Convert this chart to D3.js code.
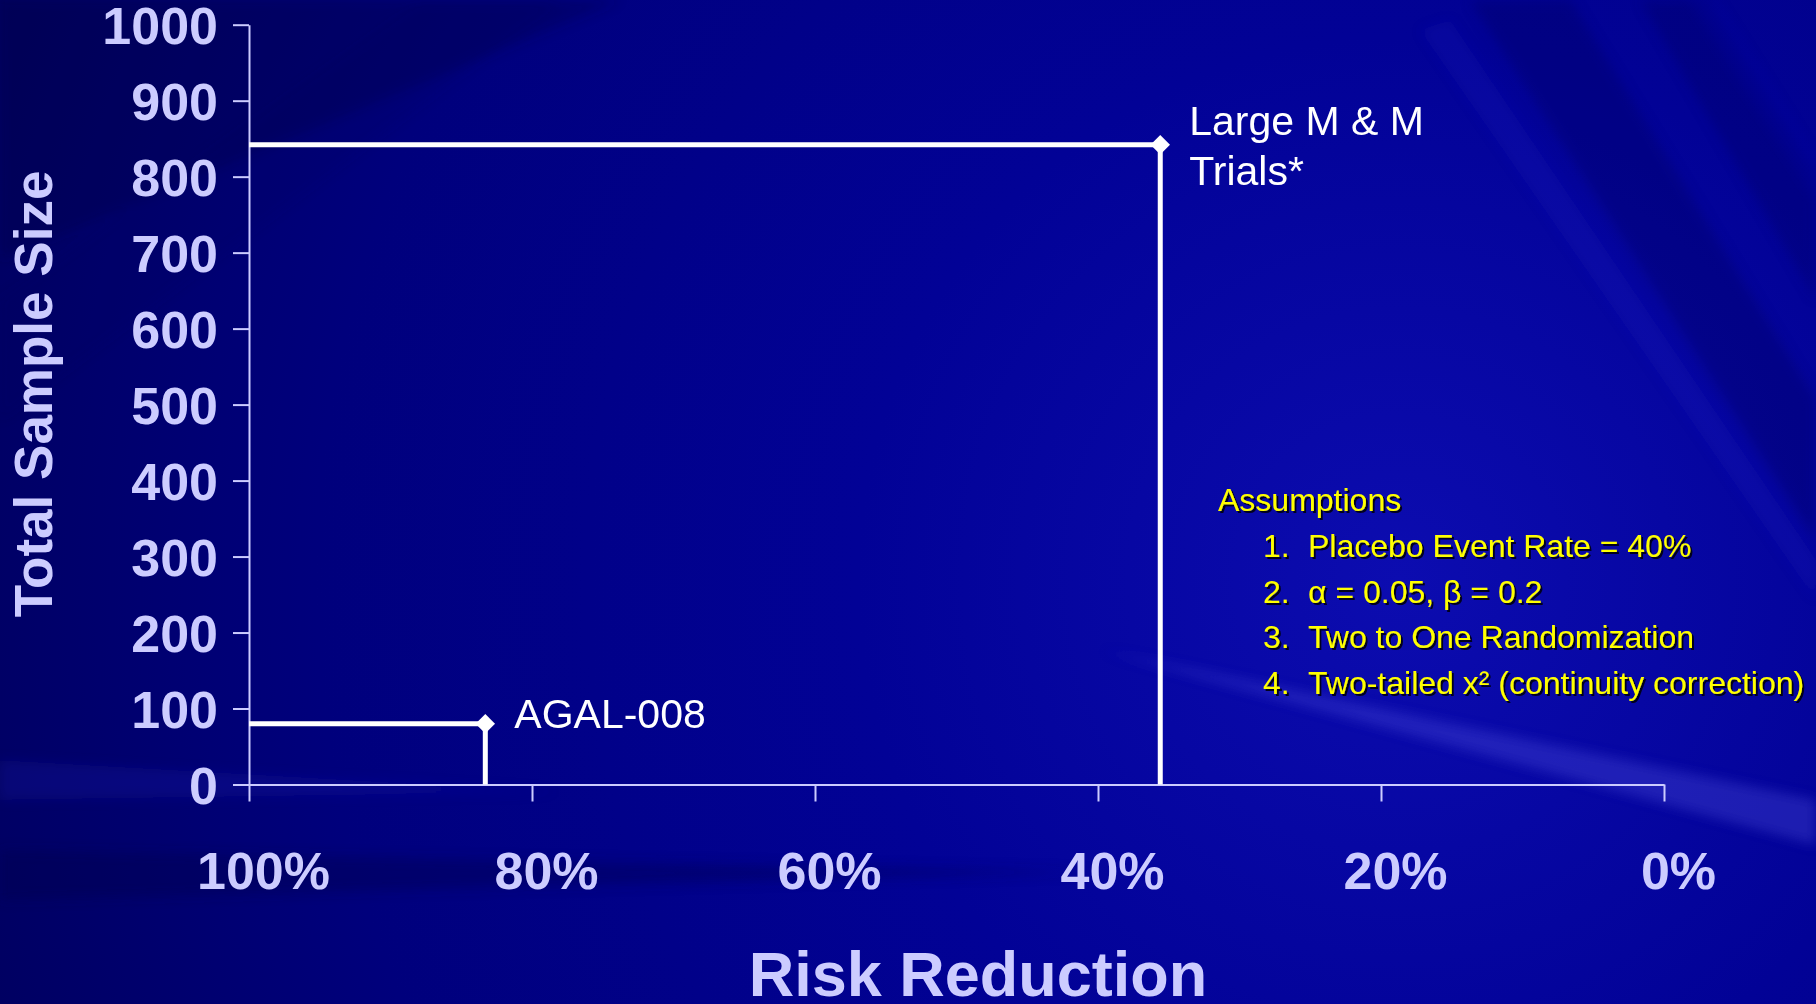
<!DOCTYPE html>
<html>
<head>
<meta charset="utf-8">
<script src="https://cdn.jsdelivr.net/npm/d3@7"></script>
<style>
  html, body { margin: 0; padding: 0; background: #000080; }
  svg { display: block; }
  text { font-family: "Liberation Sans", Arial, sans-serif; }
</style>
</head>
<body>
<svg id="chart" width="1816" height="1004"></svg>
<script>
// ---- data ----
const trials = ["AGAL-008", "Large M & M Trials*"];
const riskReduction = [83.3, 35.6];      // % risk reduction the trial is powered for
const sampleSize = [80, 842];            // total sample size needed
const trialLabels = [["AGAL-008"], ["Large M & M", "Trials*"]];

const xTicks = [100, 80, 60, 40, 20, 0];
const yTicks = [0, 100, 200, 300, 400, 500, 600, 700, 800, 900, 1000];

const assumptionsTitle = "Assumptions";
const assumptionNumbers = ["1.", "2.", "3.", "4."];
const assumptionItems = [
  "Placebo Event Rate = 40%",
  "\u03b1 = 0.05, \u03b2 = 0.2",
  "Two to One Randomization",
  "Two-tailed x\u00b2 (continuity correction)"
];

// ---- layout ----
const W = 1816, H = 1004;
const axisColor = "#ccccff";
const svg = d3.select("#chart");
const defs = svg.append("defs");

// background: deep blue, brightest toward the right, with soft diagonal streaks
const bg = defs.append("radialGradient").attr("id", "bgGrad")
  .attr("gradientUnits", "userSpaceOnUse")
  .attr("cx", 1400).attr("cy", 580).attr("r", 1550);
bg.append("stop").attr("offset", "0").attr("stop-color", "#0c0cb0");
bg.append("stop").attr("offset", "0.35").attr("stop-color", "#020296");
bg.append("stop").attr("offset", "0.7").attr("stop-color", "#00007c");
bg.append("stop").attr("offset", "1").attr("stop-color", "#00005c");
svg.append("rect").attr("width", W).attr("height", H).attr("fill", "url(#bgGrad)");

const blur = defs.append("filter").attr("id", "soft");
blur.append("feGaussianBlur").attr("stdDeviation", 6);

const streaks = svg.append("g").attr("class", "streaks").attr("filter", "url(#soft)");
const streakShapes = [
  // steep bands top-right
  { d: "M1470,0 L1570,0 L1816,400 L1816,540 Z", fill: "#000060", op: 0.35 },
  { d: "M1640,0 L1710,0 L1816,170 L1816,300 Z", fill: "#000060", op: 0.3 },
  { d: "M1420,30 L1450,20 L1816,560 L1816,600 Z", fill: "#3030d8", op: 0.12 },
  { d: "M1690,0 L1716,0 L1816,160 L1816,200 Z", fill: "#3030d8", op: 0.12 },
  // shallow light wedge lower right
  { d: "M1100,650 L1816,800 L1816,845 Z", fill: "#5858e8", op: 0.3 },
  // darker shading top-left
  { d: "M0,0 L620,0 L0,260 Z", fill: "#000040", op: 0.25 },
  { d: "M0,300 L420,0 L560,0 L0,420 Z", fill: "#000050", op: 0.12 },
  // faint light band left at the zero line
  { d: "M0,760 L560,792 L0,800 Z", fill: "#2424c8", op: 0.18 },
  // bottom-left dark band
  { d: "M0,850 L1100,872 L0,900 Z", fill: "#000048", op: 0.35 }
];
streaks.selectAll("path").data(streakShapes).join("path")
  .attr("d", d => d.d).attr("fill", d => d.fill).attr("opacity", d => d.op);

// shadow for the yellow notes
const f = defs.append("filter").attr("id", "shadow")
  .attr("x", "-5%").attr("y", "-20%").attr("width", "110%").attr("height", "140%");
f.append("feDropShadow").attr("dx", 2).attr("dy", 2).attr("stdDeviation", 0.6)
  .attr("flood-color", "#000010").attr("flood-opacity", 0.9);

// ---- scales ----
const x = d3.scaleLinear().domain([100, 0]).range([249, 1664]);
const y = d3.scaleLinear().domain([0, 1000]).range([784.5, 24.7]);

// ---- axes ----
const yAxis = d3.axisLeft(y).tickValues(yTicks).tickSize(16).tickSizeOuter(0)
  .tickPadding(15).tickFormat(d3.format("d"));
const gy = svg.append("g").attr("transform", `translate(${x(100)},0)`).call(yAxis);
gy.select(".domain").attr("stroke", axisColor).attr("stroke-width", 2);
gy.selectAll(".tick line").attr("stroke", axisColor).attr("stroke-width", 2);
gy.selectAll(".tick text")
  .attr("fill", axisColor).attr("font-size", 52).attr("font-weight", "bold")
  .attr("font-family", "'Liberation Sans', Arial, sans-serif")
  .attr("dy", "0.37em");

const xAxis = d3.axisBottom(x).tickValues(xTicks).tickSize(17).tickSizeOuter(0)
  .tickFormat(d => d + "%");
const gx = svg.append("g").attr("transform", `translate(0,${y(0)})`).call(xAxis);
gx.select(".domain").attr("stroke", axisColor).attr("stroke-width", 2);
gx.selectAll(".tick line").attr("stroke", axisColor).attr("stroke-width", 2);
gx.selectAll(".tick text")
  .attr("fill", axisColor).attr("font-size", 52).attr("font-weight", "bold")
  .attr("font-family", "'Liberation Sans', Arial, sans-serif")
  .attr("y", 0).attr("dy", 0).attr("dx", 14)
  .attr("transform", "translate(0,104)");

// axis titles
svg.append("text")
  .attr("transform", "translate(52,394) rotate(-90)")
  .attr("text-anchor", "middle")
  .attr("fill", axisColor).attr("font-size", 53).attr("font-weight", "bold")
  .text("Total Sample Size");

svg.append("text")
  .attr("x", 978).attr("y", 996)
  .attr("text-anchor", "middle")
  .attr("fill", axisColor).attr("font-size", 63).attr("font-weight", "bold")
  .text("Risk Reduction");

// ---- step lines: horizontal from the y axis, vertical down to zero ----
const data = trials.map((t, i) => ({
  name: t, rr: riskReduction[i], n: sampleSize[i], label: trialLabels[i]
}));

const line = d3.line().x(d => x(d[0])).y(d => y(d[1]));
svg.append("g").selectAll("path").data(data).join("path")
  .attr("d", d => line([[100, d.n], [d.rr, d.n], [d.rr, 0]]))
  .attr("fill", "none").attr("stroke", "#ffffff").attr("stroke-width", 5)
  .attr("stroke-linejoin", "miter");

// diamond markers
const diamond = d3.symbol().type(d3.symbolSquare).size(190);
svg.append("g").selectAll("path").data(data).join("path")
  .attr("d", diamond)
  .attr("transform", d => `translate(${x(d.rr)},${y(d.n)}) rotate(45)`)
  .attr("fill", "#ffffff");

// point labels
const labels = svg.append("g").selectAll("text").data(data).join("text")
  .attr("x", d => x(d.rr) + 29)
  .attr("y", d => y(d.n) + (d.label.length > 1 ? -9.5 : 4))
  .attr("fill", "#ffffff").attr("font-size", 41);
labels.selectAll("tspan").data(d => d.label.map(s => ({ s, x: x(d.rr) + 29 }))).join("tspan")
  .attr("x", d => d.x).attr("dy", (d, i) => i === 0 ? 0 : 50)
  .text(d => d.s);

// ---- assumptions note ----
const note = svg.append("g").attr("filter", "url(#shadow)").attr("fill", "#ffff00")
  .attr("font-size", 32);
note.append("text").attr("x", 1218).attr("y", 511).text(assumptionsTitle);
note.selectAll("text.num").data(assumptionNumbers).join("text").attr("class", "num")
  .attr("x", 1263).attr("y", (d, i) => 557 + i * 45.7).text(d => d);
note.selectAll("text.item").data(assumptionItems).join("text").attr("class", "item")
  .attr("x", 1308).attr("y", (d, i) => 557 + i * 45.7).text(d => d);
</script>
</body>
</html>
